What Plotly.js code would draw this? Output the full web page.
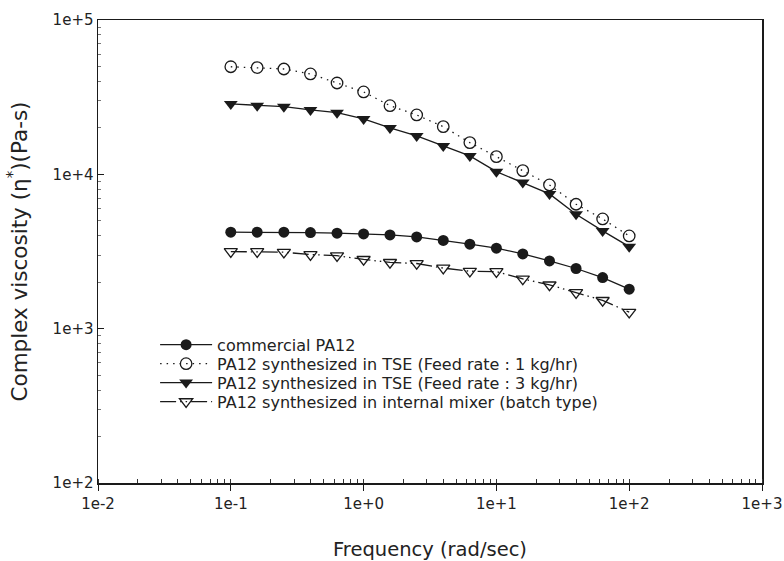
<!DOCTYPE html>
<html>
<head>
<meta charset="utf-8">
<script src="https://cdn.plot.ly/plotly-3.0.1.min.js"></script>
<style>
  html, body { margin: 0; padding: 0; background: #fff; }
  #chart { width: 784px; height: 561px; }
</style>
</head>
<body>
<div id="chart"></div>
<script>
// Angular frequency sweep (rad/sec), 5 points per decade
const frequency = [0.1, 0.158, 0.251, 0.398, 0.631, 1, 1.58, 2.51, 3.98, 6.31, 10, 15.8, 25.1, 39.8, 63.1, 100];

// Complex viscosity (Pa-s) for each sample
const commercialPA12 = [4217, 4217, 4217, 4193, 4155, 4112, 4050, 3931, 3731, 3526, 3323, 3051, 2749, 2454, 2143, 1803];
const tseFeed1 = [49800, 49200, 48150, 44700, 39080, 34190, 27860, 24250, 20370, 16050, 13020, 10570, 8540, 6400, 5140, 3990];
const tseFeed3 = [28580, 27860, 27450, 26130, 25090, 22850, 19970, 17730, 15270, 13160, 10410, 8840, 7470, 5515, 4300, 3400];
const internalMixer = [3158, 3158, 3130, 3020, 2971, 2811, 2688, 2644, 2469, 2357, 2343, 2101, 1922, 1713, 1525, 1279];

const seriesNames = [
  'commercial PA12',
  'PA12 synthesized in TSE (Feed rate : 1 kg/hr)',
  'PA12 synthesized in TSE (Feed rate : 3 kg/hr)',
  'PA12 synthesized in internal mixer (batch type)'
];

// Decade tick positions and their labels
const xTickVals = [0.01, 0.1, 1, 10, 100, 1000];
const xTickText = ['1e-2', '1e-1', '1e+0', '1e+1', '1e+2', '1e+3'];
const yTickVals = [100, 1000, 10000, 100000];
const yTickText = ['1e+2', '1e+3', '1e+4', '1e+5'];

const ink = '#1a1a1a';
const family = 'DejaVu Sans, Liberation Sans, Arial, sans-serif';

const traces = [
  {
    x: frequency, y: commercialPA12, name: seriesNames[0], legend: 'legend',
    mode: 'lines+markers',
    line: { color: ink, width: 1.3 },
    marker: { symbol: 'circle', size: 11, color: ink }
  },
  {
    x: frequency, y: tseFeed1, name: seriesNames[1], legend: 'legend2',
    mode: 'lines+markers',
    line: { color: ink, width: 1.3, dash: '1.5px,5px' },
    marker: { symbol: 'circle-open', size: 11.5, color: ink, line: { width: 1.3, color: ink } }
  },
  {
    x: frequency, y: tseFeed3, name: seriesNames[2], legend: 'legend3',
    mode: 'lines+markers',
    line: { color: ink, width: 1.3 },
    marker: { symbol: 'triangle-down', size: 12, color: ink }
  },
  {
    x: frequency, y: internalMixer, name: seriesNames[3], legend: 'legend4',
    mode: 'lines+markers',
    line: { color: ink, width: 1.3, dash: '16px,4px,1.5px,4px,1.5px,4px' },
    marker: { symbol: 'triangle-down-open', size: 11.5, color: ink, line: { width: 1.3, color: ink } }
  }
];

const tickFont = { family: family, size: 15, color: '#222' };
const legendFont = { family: family, size: 16, color: '#222' };

// One single-entry legend per series so the rows sit close together
function legendRow(yPos) {
  return {
    x: 0.086, y: yPos, xanchor: 'left', yanchor: 'middle',
    bgcolor: 'rgba(0,0,0,0)',
    itemwidth: 52,
    font: legendFont
  };
}

const layout = {
  width: 784,
  height: 561,
  margin: { l: 98, r: 22, t: 20, b: 78 },
  paper_bgcolor: '#fff',
  plot_bgcolor: '#fff',
  font: tickFont,
  showlegend: true,
  legend: legendRow(0.2985),
  legend2: legendRow(0.2575),
  legend3: legendRow(0.2167),
  legend4: legendRow(0.1755),
  xaxis: {
    type: 'log',
    range: [-2, 3],
    tickmode: 'array',
    tickvals: xTickVals,
    ticktext: xTickText,
    showgrid: false,
    zeroline: false,
    showline: true,
    linecolor: ink,
    linewidth: 1.5,
    mirror: true,
    ticks: 'outside',
    ticklen: 6,
    tickcolor: ink,
    tickfont: tickFont,
    minor: { ticks: 'inside', ticklen: 4, tickcolor: '#333', dtick: 'D1', showgrid: false },
    title: { text: 'Frequency (rad/sec)', font: { family: family, size: 19.5, color: '#222' }, standoff: 32 }
  },
  yaxis: {
    type: 'log',
    range: [2, 5],
    tickmode: 'array',
    tickvals: yTickVals,
    ticktext: yTickText,
    showgrid: false,
    zeroline: false,
    showline: true,
    linecolor: ink,
    linewidth: 1.5,
    mirror: true,
    ticks: 'inside',
    ticklen: 6,
    tickcolor: ink,
    tickfont: tickFont,
    minor: { ticks: 'inside', ticklen: 3, tickcolor: '#777', dtick: 'D1', showgrid: false },
    title: { text: 'Complex viscosity (η<sup>*</sup>)(Pa-s)', font: { family: family, size: 21.5, color: '#222' }, standoff: 19 }
  }
};

Plotly.newPlot('chart', traces, layout, { staticPlot: true, displayModeBar: false });
</script>
</body>
</html>
